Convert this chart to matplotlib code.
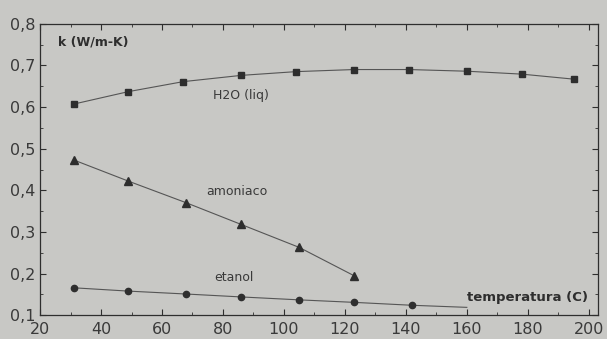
import matplotlib.pyplot as plt
from matplotlib.ticker import MultipleLocator, FuncFormatter

# data
t_h2o = [31, 49, 67, 86, 104, 123, 141, 160, 178, 195]
k_h2o = [0.607, 0.637, 0.661, 0.676, 0.685, 0.690, 0.690, 0.686, 0.679, 0.667]

t_nh3 = [31, 49, 68, 86, 105, 123]
k_nh3 = [0.473, 0.422, 0.370, 0.318, 0.263, 0.195]

t_eth = [31, 49, 68, 86, 105, 123, 142, 160]
k_eth = [0.166, 0.158, 0.151, 0.144, 0.137, 0.131, 0.124, 0.119]

bg = '#c8c8c5'
ink = '#2e2e2e'

fig = plt.figure(figsize=(6.07, 3.39), dpi=100, facecolor=bg)
ax = fig.add_axes([0.066, 0.07, 0.919, 0.86], facecolor=bg)

ax.plot(t_h2o, k_h2o, color='#555555', lw=0.8, marker='s', ms=5,
        mfc=ink, mec=ink)
ax.plot(t_nh3, k_nh3, color='#555555', lw=0.8, marker='^', ms=5.5,
        mfc=ink, mec=ink)
ax.plot(t_eth, k_eth, color='#555555', lw=0.8, marker='o', ms=4.5,
        mfc=ink, mec=ink, markevery=list(range(7)))

ax.set_xlim(20, 203)
ax.set_ylim(0.1, 0.8)
ax.xaxis.set_major_locator(MultipleLocator(20))
ax.xaxis.set_minor_locator(MultipleLocator(10))
ax.yaxis.set_major_locator(MultipleLocator(0.1))
ax.yaxis.set_minor_locator(MultipleLocator(0.05))
ax.yaxis.set_major_formatter(FuncFormatter(lambda v, p: f"{v:.1f}".replace('.', ',')))

ax.tick_params(which='both', direction='in', top=True, right=True, color=ink,
               labelcolor='#3a3a3a', labelsize=11.5)
ax.tick_params(which='major', length=4)
ax.tick_params(axis='x', which='major', pad=5)
ax.tick_params(which='minor', length=2.5)
for s in ax.spines.values():
    s.set_color(ink)
    s.set_linewidth(0.9)

ax.text(26, 0.755, 'k (W/m-K)', fontsize=9, fontweight='bold', color=ink,
        va='center', ha='left')
ax.text(86, 0.628, 'H2O (liq)', fontsize=9, color='#3a3a3a', ha='center', va='center')
ax.text(84.5, 0.398, 'amoniaco', fontsize=9, color='#3a3a3a', ha='center', va='center')
ax.text(83.5, 0.19, 'etanol', fontsize=9, color='#3a3a3a', ha='center', va='center')
ax.text(160, 0.142, 'temperatura (C)', fontsize=9.5, fontweight='bold', color=ink,
        ha='left', va='center')

fig.savefig('out.png', dpi=100, facecolor=bg)
